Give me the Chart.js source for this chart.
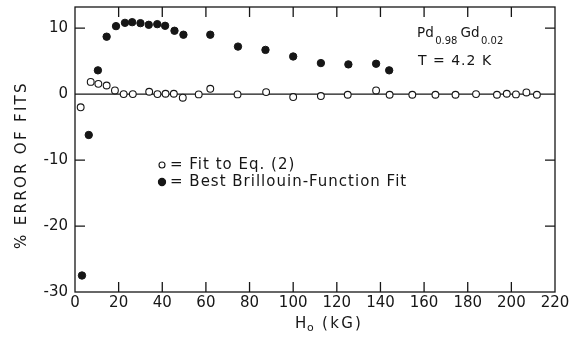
<!DOCTYPE html>
<html>
<head>
<meta charset="utf-8">
<script src="https://cdn.jsdelivr.net/npm/chart.js@4/dist/chart.umd.min.js"></script>
<style>
  html, body { margin: 0; padding: 0; background: #fff; }
  #wrap { width: 575px; height: 337px; }
</style>
</head>
<body>
<div id="wrap"><canvas id="c" width="575" height="337"></canvas></div>
<script>
// ---- data ----
const openLabel = 'Fit to Eq. (2)';
const openH   = [2.6, 7.2, 10.7, 14.5, 18.3, 22.3, 26.5, 34, 37.8, 41.5, 45.3, 49.4, 56.7, 62, 74.5, 87.6, 100, 112.7, 125, 138, 144.2, 154.6, 165.2, 174.4, 183.8, 193.4, 197.9, 202.1, 206.9, 211.7];
const openErr = [-2.0, 1.85, 1.55, 1.3, 0.55, 0, 0, 0.35, 0, 0.05, 0.05, -0.55, -0.05, 0.8, -0.05, 0.3, -0.45, -0.3, -0.1, 0.55, -0.1, -0.1, -0.1, -0.1, 0, -0.1, 0.05, -0.05, 0.25, -0.1];

const fillLabel = 'Best Brillouin-Function Fit';
const fillH   = [3.2, 6.3, 10.5, 14.5, 18.8, 22.9, 26.2, 30, 33.8, 37.7, 41.3, 45.6, 49.7, 62, 74.7, 87.3, 100, 112.7, 125.3, 138, 144];
const fillErr = [-27.5, -6.2, 3.6, 8.7, 10.3, 10.8, 10.9, 10.75, 10.5, 10.6, 10.35, 9.6, 9.0, 9.0, 7.2, 6.7, 5.7, 4.7, 4.5, 4.6, 3.6];

const xTicks = [0, 20, 40, 60, 80, 100, 120, 140, 160, 180, 200, 220];
const yTicks = [-30, -20, -10, 0, 10];
const xRange = [0, 220];
const yRange = [-30, 13.2];

const yTitle = '% ERROR OF FITS';
const xTitleMain = 'H';
const xTitleSub = 'o';
const xTitleRest = '(kG)';
const sampleParts = [['Pd', '0.98'], ['Gd', '0.02']];
const tempText = 'T = 4.2 K';

const FONT = '"DejaVu Sans", sans-serif';
const INK = '#161616';

function pts(xs, ys) { return xs.map((x, i) => ({ x: x, y: ys[i] })); }

const decor = {
  id: 'decor',
  beforeDatasetsDraw(chart) {
    const { ctx, chartArea: a, scales: { x, y } } = chart;
    ctx.save();
    ctx.strokeStyle = INK;
    ctx.lineWidth = 1.3;
    ctx.strokeRect(a.left, a.top, a.right - a.left, a.bottom - a.top);
    const y0 = y.getPixelForValue(0);
    ctx.beginPath();
    ctx.moveTo(a.left, y0); ctx.lineTo(a.right, y0);
    ctx.stroke();
    const L = 10;
    ctx.beginPath();
    xTicks.forEach(v => {
      if (v === xRange[0] || v === xRange[1]) return;
      const px = x.getPixelForValue(v);
      ctx.moveTo(px, a.bottom); ctx.lineTo(px, a.bottom - L);
      ctx.moveTo(px, a.top); ctx.lineTo(px, a.top + L);
    });
    yTicks.forEach(v => {
      if (v === yRange[0] || v === 0) return;
      const py = y.getPixelForValue(v);
      ctx.moveTo(a.left, py); ctx.lineTo(a.left + L, py);
      ctx.moveTo(a.right, py); ctx.lineTo(a.right - L, py);
    });
    ctx.stroke();
    ctx.restore();
  },
  afterDraw(chart) {
    const { ctx } = chart;
    ctx.save();
    ctx.fillStyle = INK;
    ctx.strokeStyle = INK;
    // y title
    ctx.save();
    ctx.translate(22, 165);
    ctx.rotate(-Math.PI / 2);
    ctx.font = '15px ' + FONT;
    ctx.letterSpacing = '2.3px';
    ctx.textAlign = 'center';
    ctx.textBaseline = 'middle';
    ctx.fillText(yTitle, 0, 0);
    ctx.restore();
    // x title
    ctx.textBaseline = 'alphabetic';
    ctx.textAlign = 'left';
    ctx.letterSpacing = '1px';
    ctx.font = '15px ' + FONT;
    ctx.fillText(xTitleMain, 295, 328);
    ctx.font = '11px ' + FONT;
    ctx.fillText(xTitleSub, 307, 331);
    ctx.font = '15px ' + FONT;
    ctx.letterSpacing = '2.3px';
    ctx.fillText(xTitleRest, 322, 328);
    // sample annotation
    ctx.letterSpacing = '0px';
    let px = 417;
    sampleParts.forEach(([main, sub]) => {
      ctx.font = '13.5px ' + FONT;
      ctx.fillText(main, px, 37);
      px += ctx.measureText(main).width + 1.5;
      ctx.font = '10px ' + FONT;
      ctx.fillText(sub, px, 44);
      px += ctx.measureText(sub).width + 3;
    });
    ctx.font = '14px ' + FONT;
    ctx.letterSpacing = '1px';
    ctx.fillText(tempText, 418, 65);
    // legend
    ctx.letterSpacing = '1px';
    ctx.font = '15px ' + FONT;
    ctx.textBaseline = 'middle';
    const rows = [
      { ds: chart.data.datasets[0], y: 165, r: 3 },
      { ds: chart.data.datasets[1], y: 182, r: 3.6 }
    ];
    rows.forEach(row => {
      ctx.beginPath();
      ctx.arc(162, row.y, row.r, 0, Math.PI * 2);
      ctx.fillStyle = row.ds.backgroundColor;
      ctx.fill();
      ctx.lineWidth = 1.1;
      ctx.strokeStyle = row.ds.borderColor;
      ctx.stroke();
      ctx.fillStyle = INK;
      ctx.fillText('= ' + row.ds.label, 170, row.y + 0.5);
    });
    ctx.restore();
  }
};

new Chart(document.getElementById('c'), {
  type: 'scatter',
  data: {
    datasets: [
      { label: openLabel, data: pts(openH, openErr), pointRadius: 3.4, pointHoverRadius: 3.4,
        backgroundColor: '#ffffff', borderColor: INK, borderWidth: 1.1, order: 1 },
      { label: fillLabel, data: pts(fillH, fillErr), pointRadius: 3.7, pointHoverRadius: 3.7,
        backgroundColor: INK, borderColor: INK, borderWidth: 1, order: 2 }
    ]
  },
  options: {
    responsive: false,
    animation: false,
    devicePixelRatio: 1,
    layout: { padding: { left: 0, right: 20, top: 7, bottom: 0 } },
    plugins: { legend: { display: false }, tooltip: { enabled: false } },
    scales: {
      x: {
        type: 'linear', min: xRange[0], max: xRange[1],
        grid: { display: false, drawTicks: false },
        border: { display: false },
        afterBuildTicks: s => { s.ticks = xTicks.map(v => ({ value: v })); },
        afterFit: s => { s.height = 45; s.paddingLeft = 0; s.paddingRight = 0; },
        ticks: { color: INK, font: { family: FONT, size: 15 }, padding: 2, maxRotation: 0, autoSkip: false }
      },
      y: {
        type: 'linear', min: yRange[0], max: yRange[1],
        grid: { display: false, drawTicks: false },
        border: { display: false },
        afterBuildTicks: s => { s.ticks = yTicks.map(v => ({ value: v })); },
        afterFit: s => { s.width = 75; s.paddingTop = 0; s.paddingBottom = 0; },
        ticks: { color: INK, font: { family: FONT, size: 15 }, padding: 7, autoSkip: false }
      }
    }
  },
  plugins: [decor]
});
</script>
</body>
</html>
